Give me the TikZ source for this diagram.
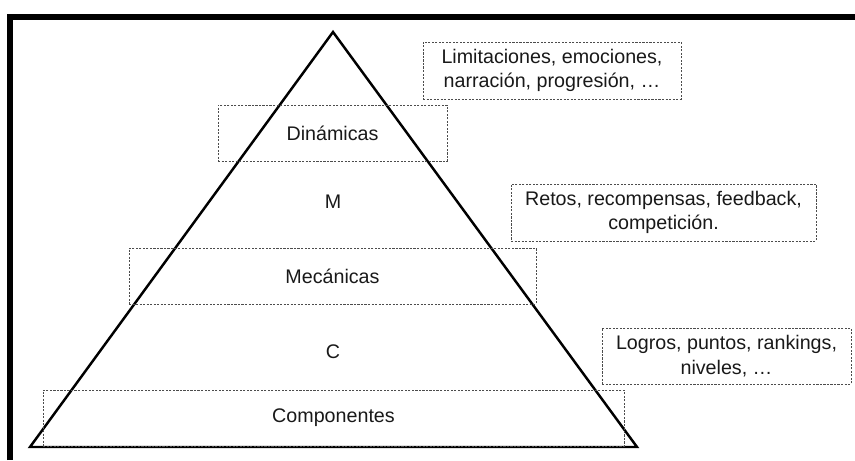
\documentclass[tikz,border=0pt]{standalone}
\usepackage{fontspec}
\setmainfont{Liberation Sans}
\tikzset{
  caja/.style={draw=black!70, dash pattern=on 1.2pt off 0.8pt, line width=0.5pt,
    inner sep=0pt, align=center, minimum height=1.12cm},
  nivel/.style={inner sep=0pt}
}
\begin{document}
\begin{tikzpicture}[font=\fontsize{11.2}{14}\selectfont, text=black!90]
  \useasboundingbox (0,0) rectangle (17.1,9.2);
  % Marco
  \draw[line width=3.4pt, line join=miter] (0.2,0) -- (0.2,8.86) -- (17.1,8.86);

  % Piramide
  \coordinate (cima) at (6.66,8.56);
  \coordinate (izq) at (0.6,0.26);
  \coordinate (der) at (12.74,0.26);
  \draw[line width=1.4pt, line join=miter] (cima) -- (der) -- (izq) -- cycle;

  % Niveles
  \node[caja, minimum width=4.58cm] (din) at (6.65,6.54) {Din\'amicas};
  \node[nivel] (m) at (6.66,5.16) {M};
  \node[caja, minimum width=8.14cm] (mec) at (6.65,3.68) {Mec\'anicas};
  \node[nivel] (c) at (6.66,2.16) {C};
  \node[caja, minimum width=11.62cm] (comp) at (6.67,0.84) {Componentes};

  % Ejemplos
  \node[caja, minimum width=5.16cm, minimum height=1.14cm] (ejdin) at (11.04,7.79)
    {Limitaciones, emociones,\\narraci\'on, progresi\'on, \dots};
  \node[caja, minimum width=6.1cm, minimum height=1.14cm] (ejmec) at (13.27,4.95)
    {Retos, recompensas, feedback,\\competici\'on.};
  \node[caja, minimum width=4.98cm] (ejcomp) at (14.53,2.08)
    {Logros, puntos, rankings,\\niveles, \dots};
\end{tikzpicture}
\end{document}
